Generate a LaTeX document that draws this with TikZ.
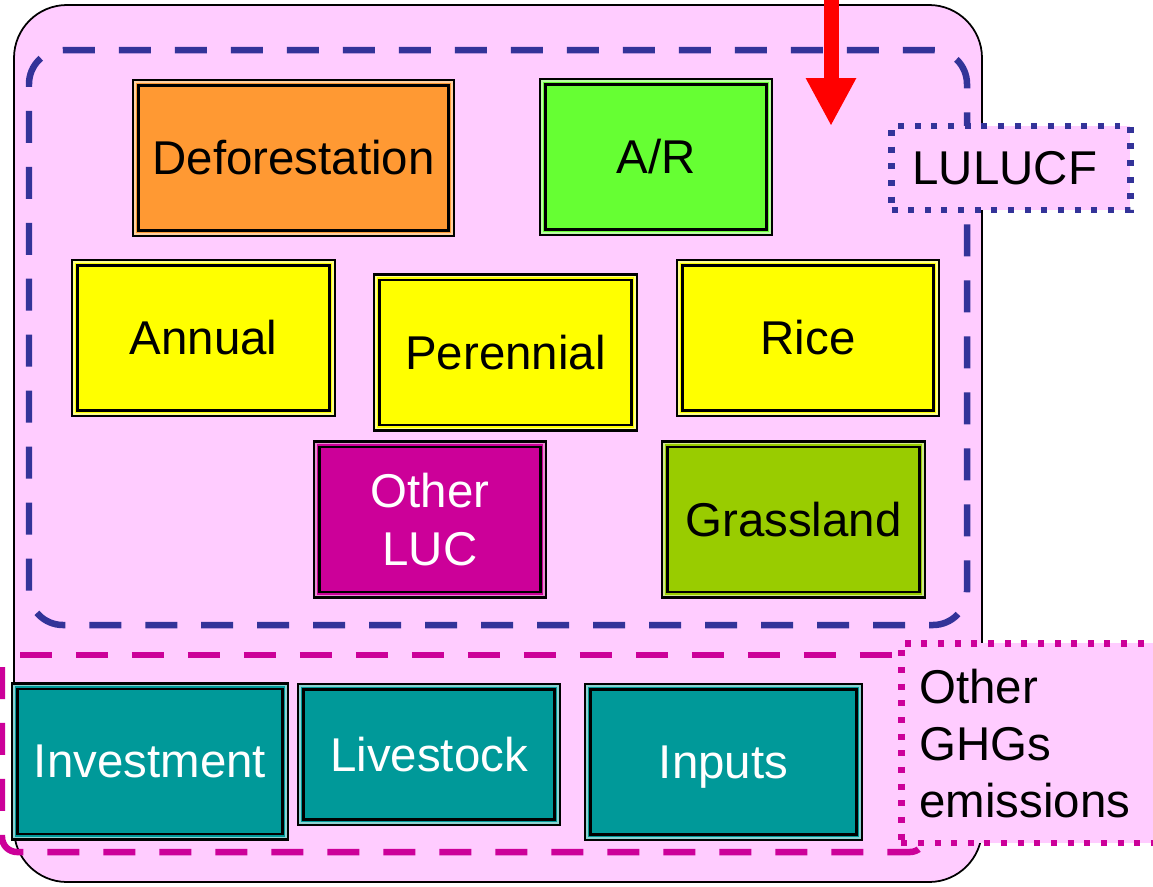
\documentclass[tikz,border=0pt]{standalone}
\usepackage{fontspec}
\setmainfont{Liberation Sans}
\usetikzlibrary{arrows.meta}
\definecolor{bgpink}{HTML}{FFCCFF}
\definecolor{lineblue}{HTML}{333399}
\definecolor{lucmag}{HTML}{CC0099}
\definecolor{deforange}{HTML}{FF9933}
\definecolor{argreen}{HTML}{66FF33}
\definecolor{cropyellow}{HTML}{FFFF00}
\definecolor{grassgreen}{HTML}{99CC00}
\definecolor{ghgteal}{HTML}{009999}
\begin{document}
\begin{tikzpicture}[x=0.02cm, y=-0.02cm,
	every node/.style={font=\fontsize{27}{32.5}\selectfont},
	landbox/.style={fill=#1, draw=black, line width=1.5pt,
		preaction={draw=black, line width=7.5pt},
		preaction={draw=#1!45!white, line width=4.9pt},
		preaction={draw=#1, line width=3.2pt},
		inner sep=0pt, align=center},
	dashline/.style={line width=0.13cm, dash pattern=on 0.64cm off 0.48cm},
	dotline/.style={line width=0.13cm, dash pattern=on 0.12cm off 0.213cm}]
	\useasboundingbox[fill=white] (0,0) rectangle (1153,886);
	\def\rowh{2.9cm}

	% frames
	\draw[fill=bgpink, line width=1pt, rounded corners=1.06cm] (14,5) rectangle (982,882);
	\draw[dashline, lineblue, rounded corners=0.68cm]
		(63,50) -- (967,50) -- (967,625) -- (29,625) -- (29,50) -- (63,50);
	\draw[dashline, lucmag] (20,655) -- (925,655);
	\draw[dashline, lucmag, rounded corners=0.3cm] (2,667) -- (2,852) -- (925,852) -- (925,655);

	% LULUCF boxes
	\node[landbox=deforange, minimum width=6.2cm, minimum height=\rowh] (defo) at (293.5,158) {Deforestation};
	\node[landbox=argreen, minimum width=4.42cm, minimum height=\rowh] (ar) at (656,157) {A/R};
	\node[landbox=cropyellow, minimum width=5.04cm, minimum height=\rowh] (annual) at (203.5,338) {Annual};
	\node[landbox=cropyellow, minimum width=5.04cm, minimum height=\rowh] (perennial) at (505.5,352.5) {Perennial};
	\node[landbox=cropyellow, minimum width=5.02cm, minimum height=\rowh] (rice) at (808,338) {Rice};
	\node[landbox=lucmag, text=white, minimum width=4.42cm, minimum height=\rowh] (otherluc) at (430,519.5) {Other\\LUC};
	\node[landbox=grassgreen, minimum width=5.04cm, minimum height=\rowh] (grass) at (793.5,519.5) {Grassland};

	% other GHGs boxes
	\node[landbox=ghgteal, text=white, minimum width=5.3cm, minimum height=\rowh] (invest) at (150,761.5) {Investment};
	\node[landbox=ghgteal, text=white, minimum width=5.02cm, minimum height=2.6cm] (livestock) at (429,754.5) {Livestock};
	\node[landbox=ghgteal, text=white, text depth=0pt, minimum width=5.32cm, minimum height=\rowh] (inputs) at (723.5,762) {Inputs};

	% labels
	\node[dotline, draw=lineblue, fill=bgpink, minimum height=1.68cm, inner xsep=0.42cm,
		text width=3.94cm, align=left] (lulucf) at (1011,168) {LULUCF};
	\node[dotline, draw=lucmag, fill=bgpink, anchor=north west, minimum height=4cm, inner xsep=0.36cm,
		text width=5.2cm, align=left] (otherghg) at (898,640) {Other\\GHGs\\emissions};

	% incoming arrow
	\coordinate (arrtop) at (831,-10);
	\coordinate (arrtip) at (831,126);
	\draw[red, line width=0.3cm, -{Triangle[length=0.96cm, width=0.94cm]}] (arrtop) -- (arrtip);
\end{tikzpicture}
\end{document}
